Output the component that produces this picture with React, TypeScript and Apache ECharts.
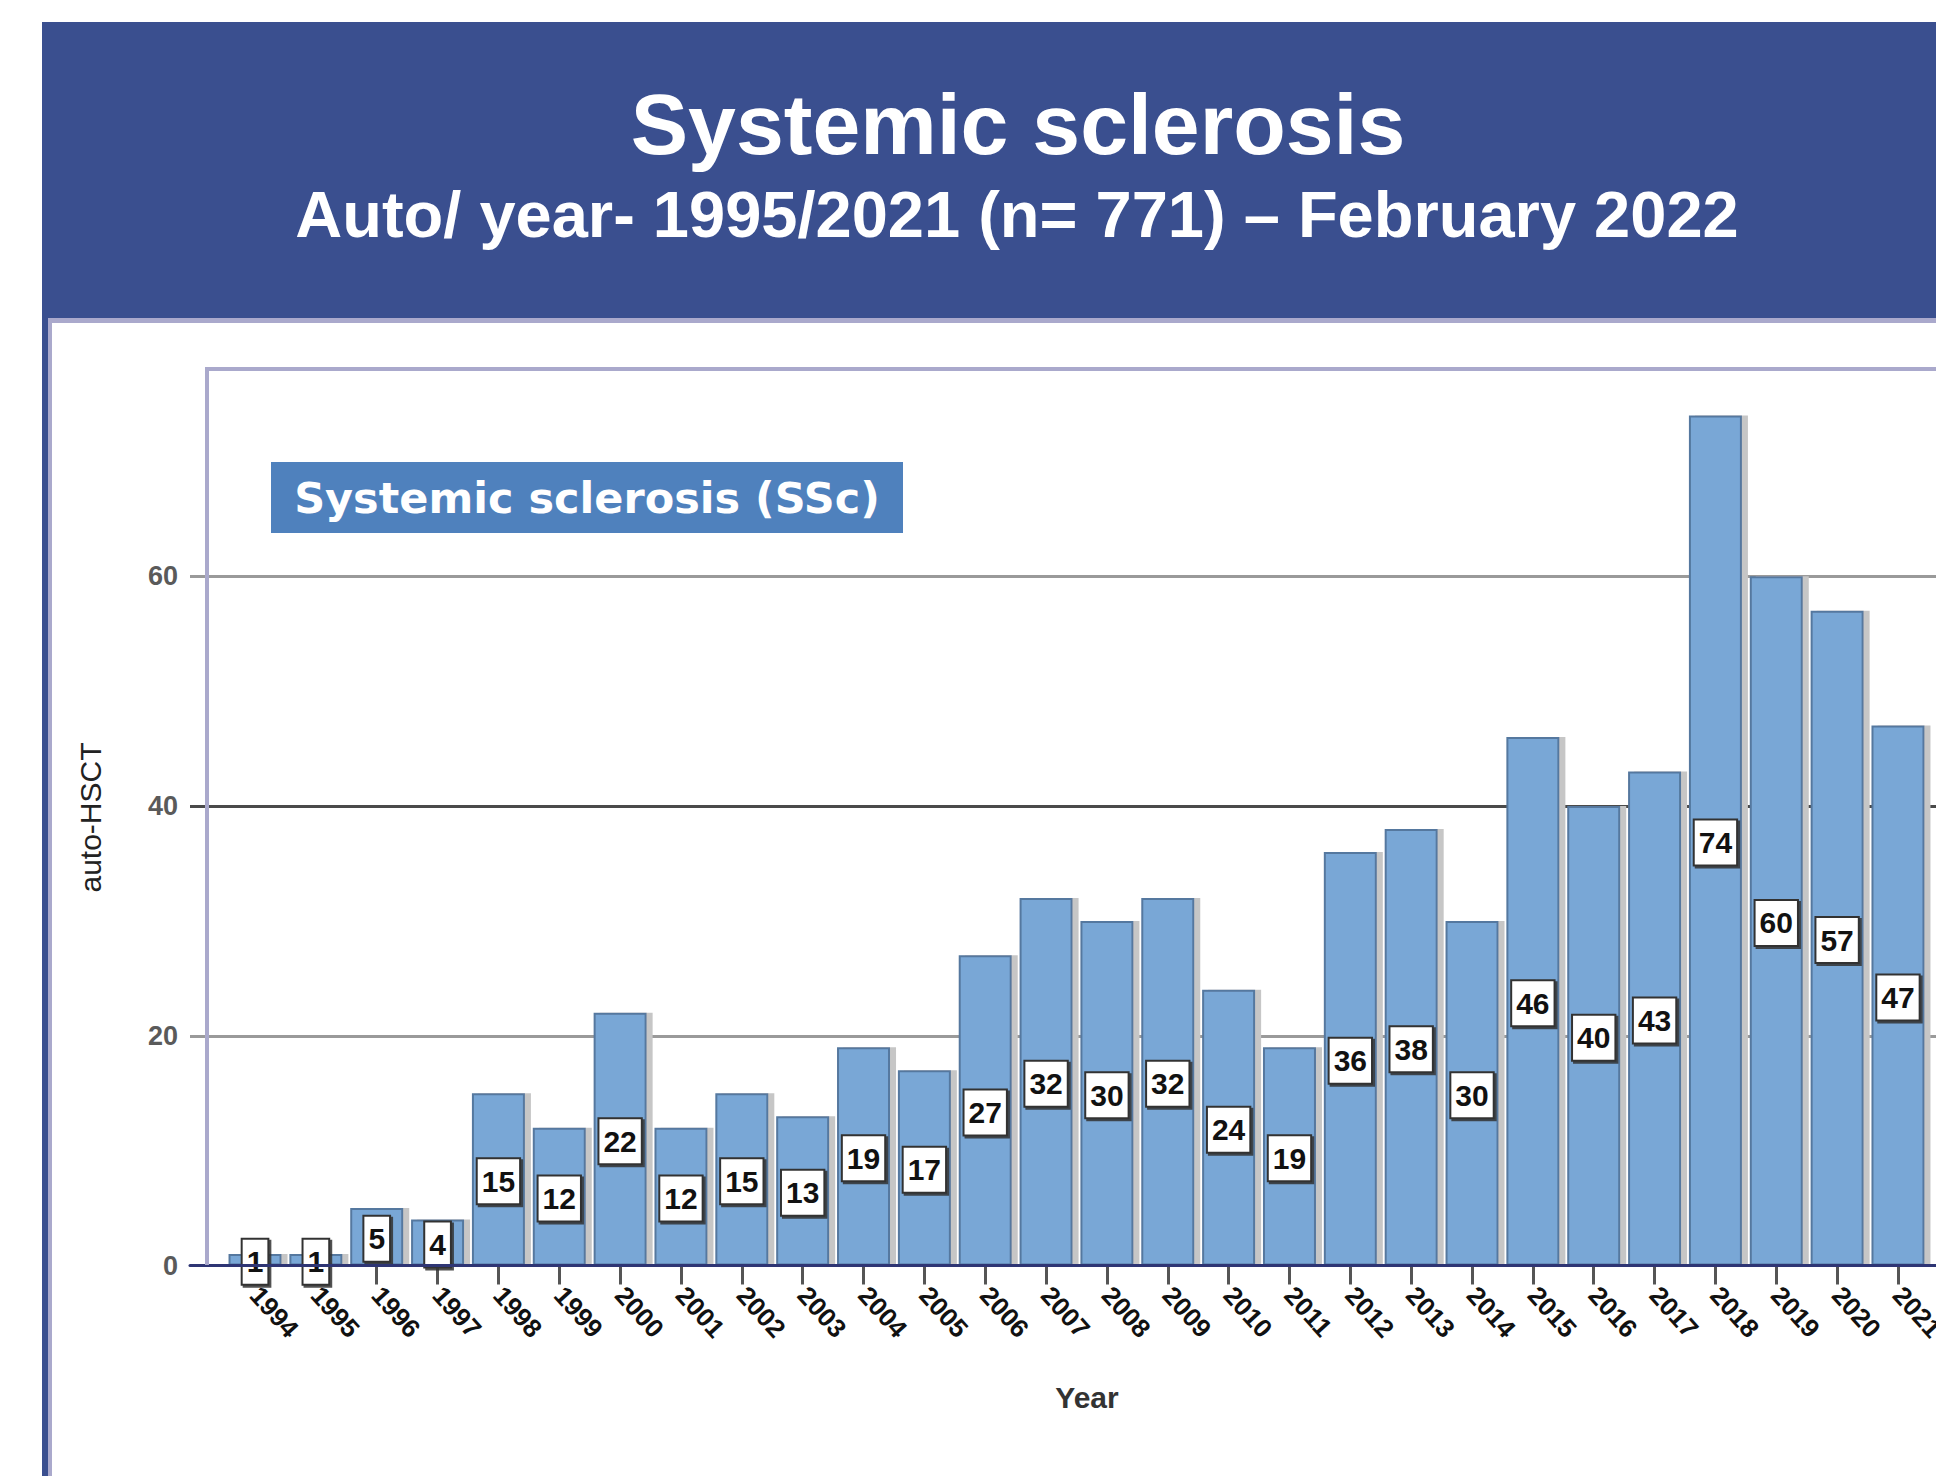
import React, { useEffect, useRef } from "react";
import * as echarts from "echarts";

const years = [
  "1994", "1995", "1996", "1997", "1998", "1999", "2000", "2001", "2002", "2003",
  "2004", "2005", "2006", "2007", "2008", "2009", "2010", "2011", "2012", "2013",
  "2014", "2015", "2016", "2017", "2018", "2019", "2020", "2021",
];
const counts = [
  1, 1, 5, 4, 15, 12, 22, 12, 15, 13,
  19, 17, 27, 32, 30, 32, 24, 19, 36, 38,
  30, 46, 40, 43, 74, 60, 57, 47,
];
const titleText = "Systemic sclerosis";
const subtitleText = "Auto/ year- 1995/2021 (n= 771) \u2013 February 2022";
const seriesName = "Systemic sclerosis (SSc)";
const yAxisTitle = "auto-HSCT";
const xAxisTitle = "Year";
const yMin = 0;
const yMax = 78;
const yInterval = 20;

const NAVY = "#3a4f8f";
const LAVENDER = "#aaa9cc";
const SANS = "'Liberation Sans', Arial, sans-serif";

export default function App() {
  const ref = useRef<HTMLDivElement>(null);

  useEffect(() => {
    if (!ref.current) return;
    const chart = echarts.init(ref.current, undefined, { renderer: "svg" });

    const gridTop = 369.5;
    const gridHeight = 896;

    const option: any = {
      animation: false,
      backgroundColor: "#ffffff",
      grid: [
        {
          left: 190, top: gridTop, width: 1746, height: gridHeight,
          containLabel: false, outerBoundsMode: "none",
        },
        {
          left: 224.6, top: gridTop, width: 1703.8, height: gridHeight,
          containLabel: false, outerBoundsMode: "none",
        },
      ],
      xAxis: [
        {
          gridIndex: 0,
          type: "value",
          min: 0,
          max: 1,
          z: 3,
          axisLine: { show: true, onZero: false, lineStyle: { color: "#2e3574", width: 3 } },
          axisTick: { show: false },
          axisLabel: { show: false },
          splitLine: { show: false },
        },
        {
          gridIndex: 1,
          type: "category",
          data: years,
          axisLine: { show: false },
          axisTick: {
            show: true,
            alignWithLabel: true,
            length: 19,
            lineStyle: { color: "#555", width: 3 },
          },
          axisLabel: {
            rotate: -48,
            margin: 25,
            interval: 0,
            fontFamily: SANS,
            fontSize: 26,
            fontWeight: "bold",
            color: "#111",
          },
          splitLine: { show: false },
        },
      ],
      yAxis: [
        {
          gridIndex: 0,
          type: "value",
          min: yMin,
          max: yMax,
          interval: yInterval,
          name: yAxisTitle,
          nameLocation: "middle",
          nameGap: 85,
          nameRotate: 90,
          nameTextStyle: { fontFamily: SANS, fontSize: 30, color: "#222" },
          axisLine: { show: false },
          axisTick: { show: false },
          axisLabel: {
            showMaxLabel: false,
            margin: 12,
            fontFamily: SANS,
            fontSize: 27,
            fontWeight: "bold",
            color: "#5a5a5a",
          },
          splitLine: {
            show: true,
            showMaxLine: false,
            lineStyle: { color: ["#777", "#9a9a9a", "#4a4a4a", "#9a9a9a"], width: 3 },
          },
        },
        {
          gridIndex: 1,
          type: "value",
          min: yMin,
          max: yMax,
          interval: yInterval,
          show: false,
          splitLine: { show: false },
        },
      ],
      series: [
        {
          name: seriesName,
          type: "bar",
          xAxisIndex: 1,
          yAxisIndex: 1,
          data: counts,
          barWidth: 53,
          z: 2,
          itemStyle: {
            color: "#79a7d6",
            borderColor: "#55789f",
            borderWidth: 2,
            shadowColor: "#c6c6c6",
            shadowOffsetX: 6,
            shadowOffsetY: 0,
            shadowBlur: 0,
          },
          label: {
            show: true,
            position: "inside",
            offset: [0, 2],
            formatter: "{c}",
            fontFamily: SANS,
            fontSize: 30,
            fontWeight: "bold",
            lineHeight: 32,
            color: "#111",
            backgroundColor: "#ffffff",
            borderColor: "#333",
            borderWidth: 2,
            padding: [7, 4, 5, 4],
            shadowColor: "rgba(50,50,50,0.85)",
            shadowOffsetX: 2,
            shadowOffsetY: 2,
            shadowBlur: 0,
          },
        },
      ],
      graphic: [
        // header band
        { type: "rect", z: 10, shape: { x: 42, y: 22, width: 1894, height: 296 }, style: { fill: NAVY } },
        { type: "rect", z: 10, shape: { x: 48, y: 318, width: 1888, height: 5 }, style: { fill: LAVENDER } },
        // left page border
        { type: "rect", z: 10, shape: { x: 42, y: 318, width: 6, height: 1158 }, style: { fill: NAVY } },
        { type: "rect", z: 10, shape: { x: 48, y: 323, width: 4, height: 1153 }, style: { fill: LAVENDER } },
        {
          type: "text",
          z: 11,
          x: 1018,
          y: 124,
          style: {
            text: titleText,
            fill: "#ffffff",
            font: `bold 86px ${SANS}`,
            textAlign: "center",
            textVerticalAlign: "middle",
          },
        },
        {
          type: "text",
          z: 11,
          x: 1017,
          y: 214,
          style: {
            text: subtitleText,
            fill: "#ffffff",
            font: `bold 65px ${SANS}`,
            textAlign: "center",
            textVerticalAlign: "middle",
          },
        },
        // plot frame (top & left)
        { type: "rect", z: 10, shape: { x: 205, y: 367, width: 1731, height: 4 }, style: { fill: LAVENDER } },
        { type: "rect", z: 10, shape: { x: 205, y: 367, width: 4, height: 898 }, style: { fill: LAVENDER } },
        // legend box
        { type: "rect", z: 10, shape: { x: 271, y: 462, width: 632, height: 71 }, style: { fill: "#4f81bd" } },
        {
          type: "text",
          z: 11,
          x: 587,
          y: 498,
          style: {
            text: seriesName,
            fill: "#ffffff",
            font: `bold 43px 'DejaVu Sans', Verdana, sans-serif`,
            textAlign: "center",
            textVerticalAlign: "middle",
          },
        },
        {
          type: "text",
          z: 11,
          x: 1087,
          y: 1397,
          style: {
            text: xAxisTitle,
            fill: "#333",
            font: `bold 30px ${SANS}`,
            textAlign: "center",
            textVerticalAlign: "middle",
          },
        },
      ],
    };

    chart.setOption(option);
    return () => chart.dispose();
  }, []);

  return (
    <div
      ref={ref}
      style={{ position: "fixed", left: 0, top: 0, width: 1936, height: 1476, background: "#fff" }}
    />
  );
}
